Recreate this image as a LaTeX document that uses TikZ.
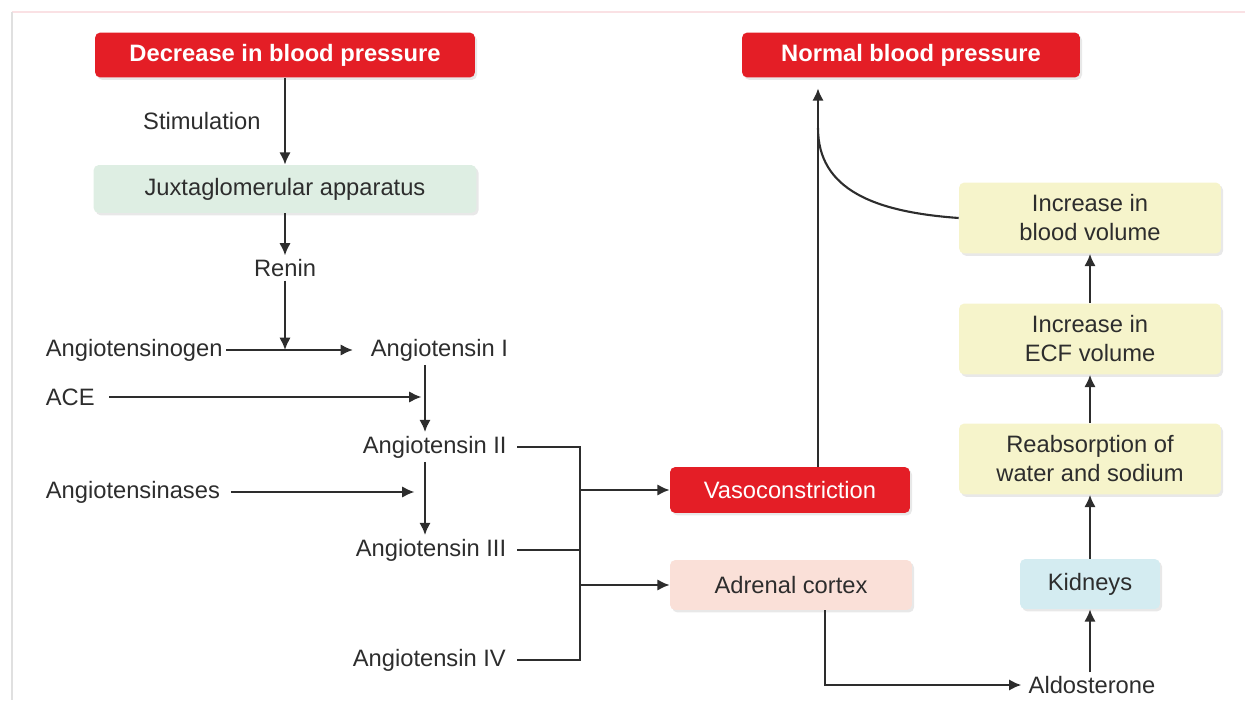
\documentclass[tikz,border=0pt]{standalone}
\usepackage{fontspec}
\setmainfont{Liberation Sans}
\usetikzlibrary{arrows.meta,positioning,shadows}
\definecolor{alarmred}{RGB}{228, 30, 38}
\definecolor{juxtagreen}{RGB}{222, 238, 227}
\definecolor{adrenalpink}{RGB}{250, 224, 216}
\definecolor{kidneyblue}{RGB}{212, 236, 241}
\definecolor{volumeyellow}{RGB}{246, 244, 203}
\definecolor{inkgray}{RGB}{45, 45, 45}
\definecolor{framepink}{RGB}{250, 225, 228}

\begin{document}
\begin{tikzpicture}[x=0.02cm, y=-0.02cm, >=latex,
  font=\fontsize{13.5}{17}\selectfont, text=inkgray,
  box/.style={rounded corners=3pt, inner sep=4pt, align=center,
              drop shadow={opacity=0.18, shadow xshift=1.2pt, shadow yshift=-1.4pt}},
  alarm/.style={box, fill=alarmred, text=white, minimum height=0.9cm},
  stage/.style={box, fill=volumeyellow, minimum width=5.24cm, minimum height=1.42cm,
                font=\fontsize{13.5}{16.5}\selectfont},
  label/.style={inner sep=2pt},
  flow/.style={draw=inkgray, line width=1.2pt, -{Latex[length=7pt, width=6.5pt]}},
  wire/.style={draw=inkgray, line width=1.2pt},
  ]

% frame of the page
\useasboundingbox (0,0) rectangle (1245,706);
\draw[framepink, line width=0.8pt] (12,12) -- (1245,12);
\draw[black!12, line width=0.8pt] (12,12) -- (12,700);

% ======================================================================
% LEFT: cascade from low pressure to angiotensins
% ======================================================================
\node[alarm, minimum width=7.6cm, font=\fontsize{13.5}{17}\selectfont\bfseries]
  (drop) at (285,55) {Decrease in blood pressure};

\node[box, fill=juxtagreen, minimum width=7.66cm, minimum height=0.96cm]
  (jga) at (285,189) {Juxtaglomerular apparatus};

\node[label] (renin) at (285,268) {Renin};

\node[label, anchor=west] (angen) at (42,350) {Angiotensinogen};
\node[label, anchor=west] (ang1)  at (367,350) {Angiotensin I};
\node[label, anchor=west] (ace)   at (42,397) {ACE};
\node[label, anchor=west] (ang2)  at (359,447) {Angiotensin II};
\node[label, anchor=west] (ases)  at (42,492) {Angiotensinases};
\node[label, anchor=west] (ang3)  at (352,550) {Angiotensin III};
\node[label, anchor=west] (ang4)  at (349,660) {Angiotensin IV};

% vertical axis of the angiotensin chain and the joining bracket
\coordinate (axis) at (425,0);
\coordinate (join) at (580,0);

\draw[flow] (drop.south) -- (jga.north)
  node[midway, left=10pt] {Stimulation};
\draw[flow] (jga.south) -- (renin.north);
\draw[flow] (renin.south) -- (renin.south |- angen.east);
\draw[flow] (angen.east) -- ([xshift=-8pt]ang1.west);
\draw[flow] (axis |- ang1.south) -- (axis |- ang2.north);
\draw[flow] ([xshift=6pt]ace.east) -- ([xshift=-2pt]axis |- ace.east);
\draw[flow] (axis |- ang2.south) -- (axis |- ang3.north);
\draw[flow] ([xshift=4pt]ases.east) -- ([xshift=-6pt]axis |- ases.east);

% bracket of angiotensin II, III and IV
\draw[wire] ([xshift=4pt]ang2.east) -- (join |- ang2.east)
  -- (join |- ang4.east) -- ([xshift=4pt]ang4.east);
\draw[wire] ([xshift=4pt]ang3.east) -- (join |- ang3.east);

% ======================================================================
% MIDDLE: effects of angiotensin
% ======================================================================
\node[alarm, minimum width=4.8cm, minimum height=0.92cm]
  (vaso) at (790,490) {Vasoconstriction};
\node[box, fill=adrenalpink, minimum width=4.84cm, minimum height=1.0cm]
  (adrenal) at (791,585) {Adrenal cortex};

\draw[flow] (join |- vaso.west) -- (vaso.west);
\draw[flow] (join |- adrenal.west) -- (adrenal.west);

% ======================================================================
% RIGHT: volume route back to normal pressure
% ======================================================================
\node[alarm, minimum width=6.76cm, font=\fontsize{13.5}{17}\selectfont\bfseries]
  (normal) at (911,55) {Normal blood pressure};

\node[label] (aldo) at (1092,685) {Aldosterone};
\node[box, fill=kidneyblue, minimum width=2.8cm, minimum height=1.0cm]
  (kidney) at (1090,584) {Kidneys};
\node[stage] (reabs) at (1090,459) {Reabsorption of\\water and sodium};
\node[stage] (ecf)   at (1090,339) {Increase in\\ECF volume};
\node[stage] (blood) at (1090,218) {Increase in\\blood volume};

\coordinate (rise) at (818,0);
\coordinate (merge) at (818,128);
\coordinate (tap) at (825,0);

\draw[flow] (adrenal.south -| tap) |- ([xshift=-2pt]aldo.west);
\draw[flow] (kidney.south |- aldo.north) -- (kidney.south);
\draw[flow] (kidney.north) -- (reabs.south);
\draw[flow] (reabs.north) -- (ecf.south);
\draw[flow] (ecf.north) -- (blood.south);

\draw[flow] (vaso.north -| rise) -- ([yshift=-6pt]normal.south -| rise);
\draw[wire] (blood.west) .. controls (875,212) and (818,190) .. (merge);

\end{tikzpicture}
\end{document}
